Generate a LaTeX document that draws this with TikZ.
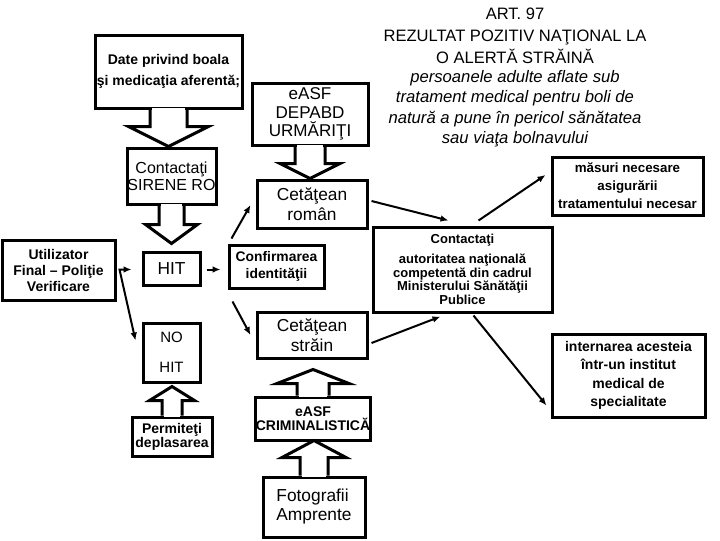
\documentclass[tikz,border=0pt]{standalone}
\usepackage{fontspec}
\setmainfont{Liberation Sans}
\usetikzlibrary{calc,arrows.meta}
\newcommand\fs[2]{\fontsize{#1}{#2}\selectfont}
% #1 node, #2 anchor, #3 stem half width, #4 wing half width, #5 stem length, #6 tip distance
\newcommand\calloutarrow[6]{%
  \fill[white] ($(#1.#2)+(-#3+1.6,-1.6)$) rectangle ($(#1.#2)+(#3-1.6,1.6)$);
  \draw[boxline] ($(#1.#2)+(-#3,0)$) -- ($(#1.#2)+(-#3,#5)$) -- ($(#1.#2)+(-#4,#5)$)
    -- ($(#1.#2)+(0,#6)$) -- ($(#1.#2)+(#4,#5)$) -- ($(#1.#2)+(#3,#5)$) -- ($(#1.#2)+(#3,0)$);
}
\begin{document}
\begin{tikzpicture}[x=0.75pt,y=-0.75pt,
  boxline/.style={line width=2.25pt, line join=miter},
  box/.style={draw, line width=2.25pt, inner sep=0pt, align=center},
  conn/.style={line width=1.5pt, -{Latex[length=6pt,width=5pt]}},
  dconn/.style={line width=1.5pt, {Latex[length=6pt,width=5pt]}-{Latex[length=6pt,width=5pt]}}]
\useasboundingbox (0,0) rectangle (720,540);
\fill[white] (0,0) rectangle (720,540);

% title texts
\node[font=\fs{12.4}{16.5}, align=center] (title) at (515,36)
  {ART. 97\\REZULTAT POZITIV NAŢIONAL LA\\O ALERTĂ STRĂINĂ};
\node[font=\itshape\fs{12.5}{15.4}, align=center] (desc) at (515,108.5)
  {persoanele adulte aflate sub\\tratament medical pentru boli de\\natură a pune în pericol sănătatea\\sau viaţa bolnavului};

% boxes
\node[box, minimum width=110.25pt, minimum height=54.75pt, font=\bfseries\fs{10.5}{16}] (date) at (168.5,71.5)
  {Date privind boala\\şi medicaţia aferentă;};
\node[box, minimum width=87pt, minimum height=46.5pt, font=\fs{12.8}{13.9}] (easf) at (310,114)
  {eASF\\DEPABD\\URMĂRIŢI};
\node[box, minimum width=66.75pt, minimum height=42pt, font=\fs{12}{12.75}] (sirene) at (171.5,176)
  {Contactaţi\\SIRENE RO};
\node[box, minimum width=84.75pt, minimum height=45pt, font=\bfseries\fs{10.5}{12}] (util) at (58.5,270)
  {Utilizator\\Final – Poliţie\\Verificare};
\node[box, minimum width=42.75pt, minimum height=24.75pt, font=\fs{13}{15}] (hit) at (171.5,268.5) {HIT};
\node[box, minimum width=71.25pt, minimum height=32.25pt, font=\bfseries\fs{10.4}{12.75}] (conf) at (276.5,266.5)
  {Confirmarea\\identităţii};
\node[box, minimum width=82.5pt, minimum height=36pt, font=\fs{13}{15}] (roman) at (312,204)
  {Cetăţean\\român};
\node[box, minimum width=82.5pt, minimum height=34.5pt, font=\fs{13}{15}] (strain) at (312,335)
  {Cetăţean\\străin};
\node[box, minimum width=42.75pt, minimum height=44.25pt, font=\fs{11.25}{22.5}] (nohit) at (171.5,352.5)
  {NO\\HIT};
\node[box, minimum width=60pt, minimum height=29.25pt, font=\bfseries\fs{10.5}{10.5}] (permit) at (172,436.5)
  {Permiteţi\\deplasarea};
\node[box, minimum width=84pt, minimum height=32.25pt, font=\bfseries\fs{10.5}{10.5}] (crim) at (313,418.5)
  {eASF\\CRIMINALISTICĂ};
\node[box, minimum width=76.5pt, minimum height=45pt, align=left, font=\fs{13}{14.25}] (foto) at (314,507)
  {Fotografii\\Amprente};
\node[box, minimum width=134.25pt, minimum height=63.75pt, font=\bfseries\fs{9.75}{10.3}] (contact) at (462.5,269.5)
  {Contactaţi\\[4.5pt]autoritatea naţională\\competentă din cadrul\\Ministerului Sănătăţii\\Publice};
\node[box, minimum width=113.25pt, minimum height=43.5pt, font=\bfseries\fs{10}{13.5}] (masuri) at (627.5,186)
  {măsuri necesare\\asigurării\\tratamentului necesar};
\node[box, minimum width=114.75pt, minimum height=62.25pt, font=\bfseries\fs{10.5}{13.7}] (intern) at (628.5,375.5)
  {internarea acesteia\\într-un institut\\medical de\\specialitate};

% callout arrows
\calloutarrow{date}{south}{18.5}{40}{17}{37}
\calloutarrow{sirene}{south}{12.5}{26}{19}{38}
\calloutarrow{easf}{south}{15}{30}{17}{32}
\calloutarrow{permit}{north}{10}{22.5}{-15}{-29}
\calloutarrow{crim}{north}{16}{36}{-12}{-26}
\calloutarrow{foto}{north}{14}{32}{-18}{-35}

% connectors
\draw[conn] ($(hit.east)+(5,1)$) -- ($(conf.west |- hit.east)+(-7,1)$);
\draw[conn] ($(conf.north west)+(4,-5)$) -- ($(roman.west)+(-5,1)$);
\draw[conn] ($(conf.south west)+(5,12)$) -- ($(strain.west)+(-5,0)$);
\draw[dconn] ($(hit.west)+(-10,1)$) -- ($(hit.west)+(-22,1)$) -- ($(nohit.west)+(-6,-12)$);
\draw[conn] ($(roman.east)+(3,-3)$) -- ($(contact.north west)+(77,-5)$);
\draw[conn] ($(contact.north west)+(107,-5)$) -- ($(masuri.west)+(-5,-11)$);
\draw[conn] ($(strain.east)+(3,8)$) -- ($(contact.south west)+(69,3)$);
\draw[conn] ($(contact.south west)+(102,2)$) -- ($(intern.west)+(-4,30)$);
\end{tikzpicture}
\end{document}
